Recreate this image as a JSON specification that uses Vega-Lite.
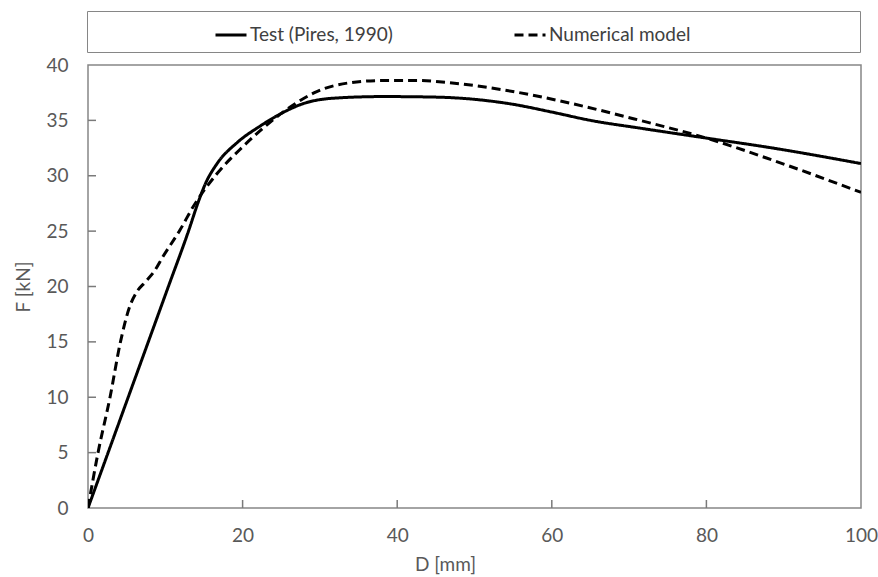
{
  "$schema": "https://vega.github.io/schema/vega-lite/v6.json",
  "width": 773,
  "height": 443,
  "autosize": {"type": "none"},
  "padding": {"left": 88, "top": 65, "right": 17, "bottom": 69},
  "background": "white",
  "config": {
    "font": "Lato",
    "view": {"stroke": "#868686", "strokeWidth": 1.5},
    "axis": {
      "grid": false,
      "domain": false,
      "ticks": false,
      "tickSize": 0,
      "labelFont": "Lato",
      "labelFontSize": 19,
      "labelColor": "#595959",
      "titleFont": "Lato",
      "titleFontSize": 19,
      "titleFontWeight": "normal",
      "titleColor": "#595959"
    }
  },
  "layer": [
    {
      "data": {
        "values": [
          {"D": 0, "F": 0, "series": "Test (Pires, 1990)"},
          {"D": 2.6, "F": 5, "series": "Test (Pires, 1990)"},
          {"D": 5.2, "F": 10, "series": "Test (Pires, 1990)"},
          {"D": 7.8, "F": 15, "series": "Test (Pires, 1990)"},
          {"D": 10.4, "F": 20, "series": "Test (Pires, 1990)"},
          {"D": 13, "F": 25, "series": "Test (Pires, 1990)"},
          {"D": 14.2, "F": 27.5, "series": "Test (Pires, 1990)"},
          {"D": 15.2, "F": 29.3, "series": "Test (Pires, 1990)"},
          {"D": 16.7, "F": 31.1, "series": "Test (Pires, 1990)"},
          {"D": 19.3, "F": 33, "series": "Test (Pires, 1990)"},
          {"D": 22.3, "F": 34.5, "series": "Test (Pires, 1990)"},
          {"D": 25.2, "F": 35.7, "series": "Test (Pires, 1990)"},
          {"D": 27.8, "F": 36.5, "series": "Test (Pires, 1990)"},
          {"D": 31.7, "F": 37.0, "series": "Test (Pires, 1990)"},
          {"D": 38.2, "F": 37.15, "series": "Test (Pires, 1990)"},
          {"D": 45, "F": 37.1, "series": "Test (Pires, 1990)"},
          {"D": 50, "F": 36.9, "series": "Test (Pires, 1990)"},
          {"D": 55, "F": 36.45, "series": "Test (Pires, 1990)"},
          {"D": 60, "F": 35.75, "series": "Test (Pires, 1990)"},
          {"D": 65, "F": 35.0, "series": "Test (Pires, 1990)"},
          {"D": 71.4, "F": 34.3, "series": "Test (Pires, 1990)"},
          {"D": 80, "F": 33.4, "series": "Test (Pires, 1990)"},
          {"D": 88.6, "F": 32.5, "series": "Test (Pires, 1990)"},
          {"D": 100, "F": 31.1, "series": "Test (Pires, 1990)"},
          {"D": 0, "F": 0, "series": "Numerical model"},
          {"D": 1.3, "F": 5, "series": "Numerical model"},
          {"D": 2.85, "F": 10, "series": "Numerical model"},
          {"D": 4.2, "F": 15, "series": "Numerical model"},
          {"D": 5.4, "F": 18.2, "series": "Numerical model"},
          {"D": 6.3, "F": 19.5, "series": "Numerical model"},
          {"D": 7.4, "F": 20.4, "series": "Numerical model"},
          {"D": 8.6, "F": 21.4, "series": "Numerical model"},
          {"D": 9.7, "F": 22.7, "series": "Numerical model"},
          {"D": 11.9, "F": 25.1, "series": "Numerical model"},
          {"D": 13.6, "F": 27.2, "series": "Numerical model"},
          {"D": 16.7, "F": 30.2, "series": "Numerical model"},
          {"D": 20, "F": 32.6, "series": "Numerical model"},
          {"D": 23.5, "F": 34.8, "series": "Numerical model"},
          {"D": 27, "F": 36.6, "series": "Numerical model"},
          {"D": 29.6, "F": 37.6, "series": "Numerical model"},
          {"D": 33.9, "F": 38.4, "series": "Numerical model"},
          {"D": 38.2, "F": 38.6, "series": "Numerical model"},
          {"D": 42.5, "F": 38.6, "series": "Numerical model"},
          {"D": 46.8, "F": 38.4, "series": "Numerical model"},
          {"D": 54.2, "F": 37.7, "series": "Numerical model"},
          {"D": 62.7, "F": 36.5, "series": "Numerical model"},
          {"D": 71.4, "F": 35.0, "series": "Numerical model"},
          {"D": 80, "F": 33.4, "series": "Numerical model"},
          {"D": 88.6, "F": 31.4, "series": "Numerical model"},
          {"D": 100, "F": 28.5, "series": "Numerical model"}
        ]
      },
      "mark": {"type": "line", "interpolate": "monotone", "color": "black", "strokeWidth": 3, "clip": true},
      "encoding": {
        "x": {
          "field": "D", "type": "quantitative", "title": "D [mm]",
          "scale": {"domain": [0, 100], "nice": false, "zero": false},
          "axis": {"values": [0, 20, 40, 60, 80, 100], "labelPadding": 18, "titlePadding": 10, "titleX": 357, "labelFlush": false}
        },
        "y": {
          "field": "F", "type": "quantitative", "title": "F [kN]",
          "scale": {"domain": [0, 40], "nice": false},
          "axis": {"values": [0, 5, 10, 15, 20, 25, 30, 35, 40], "labelPadding": 20, "titlePadding": 12, "labelFlush": false}
        },
        "strokeDash": {
          "field": "series", "type": "nominal",
          "scale": {"domain": ["Test (Pires, 1990)", "Numerical model"], "range": [[1, 0], [9, 5]]},
          "legend": {
            "orient": "none",
            "legendX": -1,
            "legendY": -54,
            "direction": "horizontal",
            "title": " ",
            "titleOrient": "right",
            "titlePadding": 163,
            "strokeColor": "#868686",
            "padding": 7,
            "symbolType": "stroke",
            "symbolSize": 961,
            "symbolStrokeWidth": 3,
            "symbolStrokeColor": "black",
            "symbolOffset": 120,
            "columnPadding": -4,
            "labelOffset": 2,
            "labelFont": "Lato",
            "labelFontSize": 19,
            "labelColor": "#404040"
          }
        }
      }
    },
    {
      "data": {"values": [{"D": 20}, {"D": 40}, {"D": 60}, {"D": 80}]},
      "mark": {"type": "tick", "orient": "vertical", "size": 16, "thickness": 1.5, "color": "#7a7a7a", "opacity": 1, "clip": true},
      "encoding": {
        "x": {"field": "D", "type": "quantitative", "title": "D [mm]"},
        "y": {"datum": 0, "type": "quantitative", "title": "F [kN]"}
      }
    },
    {
      "data": {"values": [{"F": 5}, {"F": 10}, {"F": 15}, {"F": 20}, {"F": 25}, {"F": 30}, {"F": 35}]},
      "mark": {"type": "tick", "orient": "horizontal", "size": 16, "thickness": 1.5, "color": "#7a7a7a", "opacity": 1, "clip": true},
      "encoding": {
        "x": {"datum": 0, "type": "quantitative", "title": "D [mm]"},
        "y": {"field": "F", "type": "quantitative", "title": "F [kN]"}
      }
    }
  ]
}
